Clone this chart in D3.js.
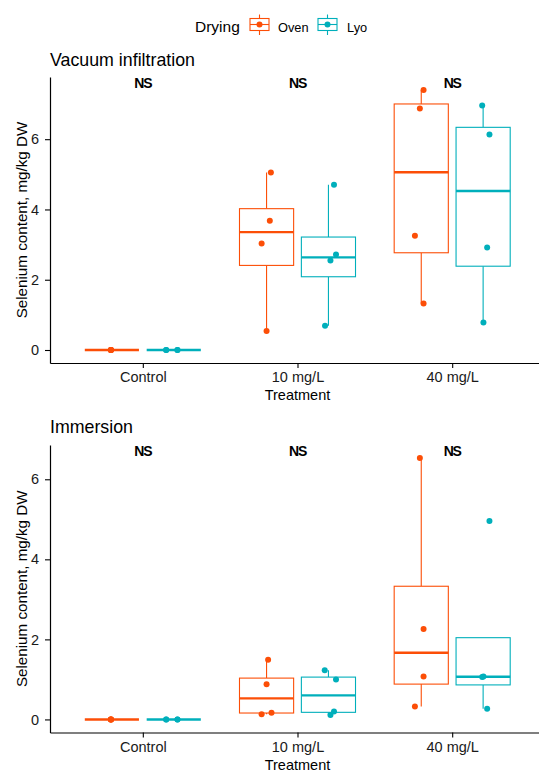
<!DOCTYPE html>
<html>
<head>
<meta charset="utf-8">
<script src="https://cdn.jsdelivr.net/npm/d3@7"></script>
<style>
  body { margin: 0; background: #fff; }
  svg { display: block; font-family: "Liberation Sans", Arial, sans-serif; }
</style>
</head>
<body>
<div id="chart"></div>
<script>
// data (4 replicates per group)
const treatments = ["Control", "10 mg/L", "40 mg/L"];
const dryings = ["Oven", "Lyo"];
const colors = { Oven: "#FC4E07", Lyo: "#00AFBB" };

const vacuumOven = [[0, 0, 0, 0], [0.54, 3.03, 3.68, 5.05], [1.32, 3.25, 6.87, 7.40]];
const vacuumLyo = [[0, 0, 0, 0], [0.69, 2.55, 2.72, 4.70], [0.78, 2.92, 6.13, 6.96]];
const immersionOven = [[0, 0, 0, 0], [0.13, 0.17, 0.88, 1.49], [0.32, 1.07, 2.26, 6.53]];
const immersionLyo = [[0, 0, 0, 0], [0.11, 0.20, 1.00, 1.23], [0.27, 1.06, 1.07, 4.96]];

// jitter used for the points (fraction of a category step)
const vacuumOvenJit = [[-0.006, -0.006, -0.006, -0.006], [0, -0.032, 0.021, 0.028], [0.015, -0.041, -0.009, 0.015]];
const vacuumLyoJit = [[-0.049, -0.049, 0.024, 0.024], [-0.022, 0.013, 0.049, 0.036], [0.002, 0.026, 0.041, -0.006]];
const immersionOvenJit = [[-0.006, -0.006, -0.006, -0.006], [-0.032, 0.032, 0, 0.010], [-0.041, 0.015, 0.015, -0.009]];
const immersionLyoJit = [[-0.049, -0.049, 0.024, 0.024], [0.013, 0.036, 0.049, -0.024], [0.026, -0.006, 0.002, 0.041]];

const yTicks = [0, 2, 4, 6];
const sigLabels = ["NS", "NS", "NS"];

const panels = [
  { title: "Vacuum infiltration", top: 77, bottom: 363, titleY: 65.5,
    series: { Oven: vacuumOven, Lyo: vacuumLyo }, jit: { Oven: vacuumOvenJit, Lyo: vacuumLyoJit } },
  { title: "Immersion", top: 445, bottom: 732.5, titleY: 433,
    series: { Oven: immersionOven, Lyo: immersionLyo }, jit: { Oven: immersionOvenJit, Lyo: immersionLyoJit } }
];

const W = 539, H = 771;
const left = 50, right = 545;
const font = 14.5;

const svg = d3.select("#chart").append("svg").attr("width", W).attr("height", H);

const x = d3.scalePoint().domain(treatments).range([left, right]).padding(0.6);
const step = x.step();
const dodge = { Oven: -0.2, Lyo: 0.2 };
const boxW = 0.35 * step;

function boxStats(vals) {
  const s = vals.slice().sort(d3.ascending);
  const q1 = d3.quantileSorted(s, 0.25), med = d3.quantileSorted(s, 0.5), q3 = d3.quantileSorted(s, 0.75);
  const iqr = q3 - q1;
  const inside = s.filter(v => v >= q1 - 1.5 * iqr && v <= q3 + 1.5 * iqr);
  const lo = d3.min([q1, med, q3, ...inside]);
  const hi = d3.max([q1, med, q3, ...inside]);
  return { q1, med, q3, lo, hi };
}

panels.forEach(p => {
  const all = dryings.flatMap(d => p.series[d].flat());
  const mn = d3.min(all), mx = d3.max(all), pad = (mx - mn) * 0.05;
  const y = d3.scaleLinear().domain([mn - pad, mx + pad]).range([p.bottom, p.top]);

  const g = svg.append("g");

  g.append("text").attr("x", left).attr("y", p.titleY)
    .attr("font-size", 17.8).attr("fill", "#000").text(p.title);

  // boxes
  dryings.forEach(d => {
    p.series[d].forEach((vals, i) => {
      const st = boxStats(vals);
      const cx = x(treatments[i]) + dodge[d] * step;
      const bg = g.append("g").attr("stroke", colors[d]).attr("fill", "none");
      bg.append("line").attr("x1", cx).attr("x2", cx).attr("y1", y(st.q3)).attr("y2", y(st.hi)).attr("stroke-width", 1.1);
      bg.append("line").attr("x1", cx).attr("x2", cx).attr("y1", y(st.q1)).attr("y2", y(st.lo)).attr("stroke-width", 1.1);
      bg.append("rect").attr("x", cx - boxW / 2).attr("width", boxW)
        .attr("y", y(st.q3)).attr("height", Math.max(0, y(st.q1) - y(st.q3)))
        .attr("fill", "#fff").attr("stroke-width", 1.1);
      bg.append("line").attr("x1", cx - boxW / 2).attr("x2", cx + boxW / 2)
        .attr("y1", y(st.med)).attr("y2", y(st.med)).attr("stroke-width", 2.4);
    });
  });

  // jittered points
  dryings.forEach(d => {
    p.series[d].forEach((vals, i) => {
      const cx = x(treatments[i]) + dodge[d] * step;
      g.selectAll(null).data(vals).join("circle")
        .attr("cx", (v, j) => cx + p.jit[d][i][j] * step)
        .attr("cy", v => y(v))
        .attr("r", 3)
        .attr("fill", colors[d]);
    });
  });

  // significance labels
  g.selectAll(null).data(treatments).join("text")
    .attr("x", t => x(t)).attr("y", p.top + 11)
    .attr("text-anchor", "middle").attr("font-size", 14).attr("font-weight", "bold")
    .attr("letter-spacing", -1.2).text((t, i) => sigLabels[i]);

  // axes
  const ya = g.append("g").attr("transform", `translate(${left},0)`)
    .call(d3.axisLeft(y).tickValues(yTicks).tickFormat(d3.format("d")).tickSize(5).tickSizeOuter(0).tickPadding(6));
  const xa = g.append("g").attr("transform", `translate(0,${p.bottom})`)
    .call(d3.axisBottom(x).tickSize(5).tickSizeOuter(0).tickPadding(4));
  [ya, xa].forEach(a => {
    a.select(".domain").attr("stroke", "#000").attr("stroke-width", 1.2);
    a.selectAll(".tick line").attr("stroke", "#000").attr("stroke-width", 1.1);
    a.selectAll(".tick text").attr("fill", "#1a1a1a").attr("font-size", font)
      .attr("font-family", "Liberation Sans, Arial, sans-serif");
  });

  g.append("text").attr("x", x(treatments[1])).attr("y", p.bottom + 37)
    .attr("text-anchor", "middle").attr("font-size", font).text("Treatment");

  g.append("text")
    .attr("transform", `translate(27,${(p.top + p.bottom) / 2}) rotate(-90)`)
    .attr("text-anchor", "middle").attr("font-size", 15.2)
    .text("Selenium content, mg/kg DW");
});

// legend
const lg = svg.append("g");
lg.append("text").attr("x", 195).attr("y", 31.5).attr("font-size", 15.5).text("Drying");
const keys = [{ d: "Oven", kx: 250, tx: 278 }, { d: "Lyo", kx: 318, tx: 347 }];
keys.forEach(k => {
  const kg = lg.append("g").attr("stroke", colors[k.d]).attr("fill", "none").attr("stroke-width", 1.1);
  const cx = k.kx + 9.5, cy = 24.5;
  kg.append("line").attr("x1", cx).attr("x2", cx).attr("y1", 14.5).attr("y2", 35);
  kg.append("rect").attr("x", k.kx).attr("y", 18.5).attr("width", 19).attr("height", 12).attr("fill", "#fff");
  kg.append("line").attr("x1", k.kx).attr("x2", k.kx + 19).attr("y1", cy).attr("y2", cy);
  lg.append("circle").attr("cx", cx).attr("cy", cy).attr("r", 3).attr("fill", colors[k.d]);
  lg.append("text").attr("x", k.tx).attr("y", 31.5).attr("font-size", 12.8).text(k.d);
});
</script>
</body>
</html>
